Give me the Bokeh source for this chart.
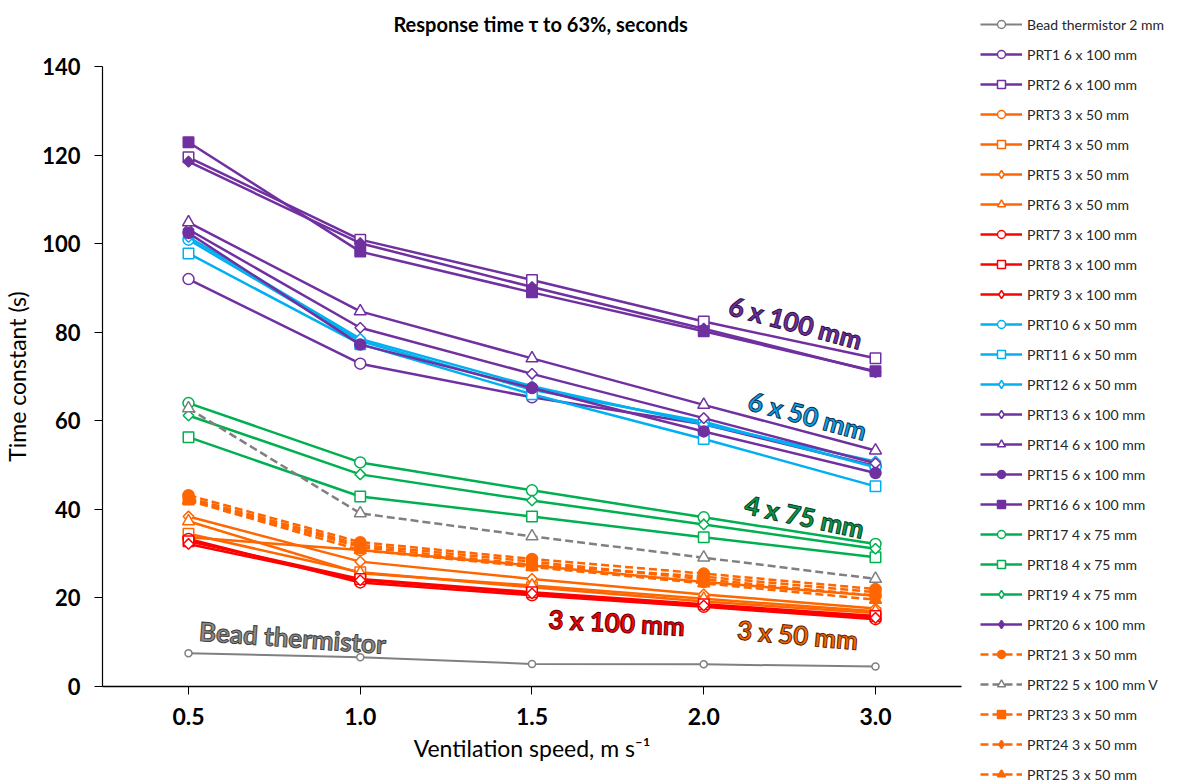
import math
from bokeh.plotting import figure
from bokeh.models import (Legend, LegendItem, Label, Range1d,
                          ColumnDataSource, FixedTicker)
from bokeh.embed import file_html
from bokeh.resources import INLINE

# ---------------- data ----------------
speeds = ["0.5", "1.0", "1.5", "2.0", "3.0"]   # category axis (equally spaced)

bead = [7.5, 6.6, 5.1, 5.0, 4.5]
prt1 = [92.0, 72.9, 65.3, 59.2, 49.8]
prt2 = [119.5, 100.9, 91.8, 82.4, 74.1]
prt3 = [33.7, 30.8, 27.3, 23.6, 20.5]
prt4 = [34.5, 25.8, 22.4, 19.2, 16.6]
prt5 = [38.4, 28.2, 24.3, 20.8, 17.6]
prt6 = [37.3, 25.6, 22.8, 19.8, 17.0]
prt7 = [33.3, 23.5, 20.6, 18.0, 15.2]
prt8 = [32.8, 24.3, 21.3, 18.6, 15.9]
prt9 = [32.2, 24.0, 21.0, 18.3, 15.5]
prt10 = [100.9, 78.0, 67.0, 59.8, 49.5]
prt11 = [97.8, 77.3, 66.0, 55.9, 45.2]
prt12 = [101.5, 78.5, 67.8, 59.2, 50.8]
prt13 = [103.2, 81.0, 70.6, 60.6, 50.4]
prt14 = [104.8, 84.7, 74.1, 63.6, 53.3]
prt15 = [102.4, 77.2, 67.4, 57.6, 48.2]
prt16 = [122.9, 98.2, 89.0, 80.2, 71.2]
prt17 = [64.0, 50.6, 44.3, 38.2, 32.2]
prt18 = [56.3, 42.9, 38.4, 33.7, 29.2]
prt19 = [61.2, 47.9, 42.0, 36.6, 31.1]
prt20 = [118.5, 100.1, 90.2, 80.8, 71.0]
prt21 = [43.2, 32.6, 28.8, 25.5, 22.0]
prt22 = [62.8, 39.1, 33.9, 29.1, 24.3]
prt23 = [42.2, 31.5, 27.5, 24.8, 21.3]
prt24 = [42.6, 32.0, 28.2, 24.2, 20.5]
prt25 = [42.0, 30.8, 27.0, 23.3, 19.6]

y_ticks = [0, 20, 40, 60, 80, 100, 120, 140]

PURPLE = "#7030A0"
ORANGE = "#FF6600"
RED = "#FF0000"
CYAN = "#00B0F0"
GREEN = "#00B050"
GRAY = "#808080"

# name, values, colour, marker, filled, dashed
series = [
    ("Bead thermistor 2 mm", bead, GRAY, "circle", False, False),
    ("PRT1 6 x 100 mm", prt1, PURPLE, "circle", False, False),
    ("PRT2 6 x 100 mm", prt2, PURPLE, "square", False, False),
    ("PRT3 3 x 50 mm", prt3, ORANGE, "circle", False, False),
    ("PRT4 3 x 50 mm", prt4, ORANGE, "square", False, False),
    ("PRT5 3 x 50 mm", prt5, ORANGE, "diamond", False, False),
    ("PRT6 3 x 50 mm", prt6, ORANGE, "triangle", False, False),
    ("PRT7 3 x 100 mm", prt7, RED, "circle", False, False),
    ("PRT8 3 x 100 mm", prt8, RED, "square", False, False),
    ("PRT9 3 x 100 mm", prt9, RED, "diamond", False, False),
    ("PRT10 6 x 50 mm", prt10, CYAN, "circle", False, False),
    ("PRT11 6 x 50 mm", prt11, CYAN, "square", False, False),
    ("PRT12 6 x 50 mm", prt12, CYAN, "diamond", False, False),
    ("PRT13 6 x 100 mm", prt13, PURPLE, "diamond", False, False),
    ("PRT14 6 x 100 mm", prt14, PURPLE, "triangle", False, False),
    ("PRT15 6 x 100 mm", prt15, PURPLE, "circle", True, False),
    ("PRT16 6 x 100 mm", prt16, PURPLE, "square", True, False),
    ("PRT17 4 x 75 mm", prt17, GREEN, "circle", False, False),
    ("PRT18 4 x 75 mm", prt18, GREEN, "square", False, False),
    ("PRT19 4 x 75 mm", prt19, GREEN, "diamond", False, False),
    ("PRT20 6 x 100 mm", prt20, PURPLE, "diamond", True, False),
    ("PRT21 3 x 50 mm", prt21, ORANGE, "circle", True, True),
    ("PRT22 5 x 100 mm V", prt22, GRAY, "triangle", False, True),
    ("PRT23 3 x 50 mm", prt23, ORANGE, "square", True, True),
    ("PRT24 3 x 50 mm", prt24, ORANGE, "diamond", True, True),
    ("PRT25 3 x 50 mm", prt25, ORANGE, "triangle", True, True),
]

FONT = "Lato"
cat_idx = list(range(len(speeds)))
n = len(speeds)

# The frame covers the whole canvas; axes are pinned at data positions.
p = figure(width=1181, height=783,
           x_range=Range1d(-1.0946, n - 1 + 1.7817),
           y_range=Range1d(-21.9, 154.9),
           output_backend="svg", toolbar_location=None,
           min_border=0, min_border_left=0, min_border_right=0,
           min_border_top=0, min_border_bottom=0,
           x_axis_location="below", y_axis_location="left")
p.title.visible = False
p.outline_line_color = None
p.xgrid.grid_line_color = None
p.ygrid.grid_line_color = None

nan = float("nan")
items = []
for name, vals, col, mk, filled, dashed in series:
    src = ColumnDataSource(dict(x=cat_idx, y=vals))
    lw = 2.0 if name.startswith("Bead") else 2.5
    dash = "8 4" if dashed else "solid"
    fill = col if filled else "white"
    ln = p.line("x", "y", source=src, line_color=col, line_width=lw, line_dash=dash)
    if mk == "diamond":
        p.scatter("x", "y", source=src, marker="square", size=7.5,
                  angle=math.pi / 4, line_color=col, line_width=1.5,
                  fill_color=fill)
        # legend swatch only (NaN values: nothing drawn in the plot)
        proxy_src = ColumnDataSource(dict(x=cat_idx, y=[nan] * n))
        sc = p.scatter("x", "y", source=proxy_src, marker="diamond", size=12,
                       line_color=col, line_width=1.5, fill_color=fill)
    else:
        if mk == "circle":
            size = 7 if name.startswith("Bead") else 11
        elif mk == "triangle":
            size = 12
        else:
            size = 10.5
        sc = p.scatter("x", "y", source=src, marker=mk, size=size,
                       line_color=col, line_width=1.5, fill_color=fill)
    items.append(LegendItem(label=name, renderers=[ln, sc]))

legend = Legend(items=items, location=(980, -1), ncols=1,
                glyph_width=42, glyph_height=20, label_height=20,
                spacing=10, padding=10, margin=0, label_standoff=5,
                label_text_font=FONT, label_text_font_size="14px",
                label_text_color="#262626",
                border_line_color=None, background_fill_alpha=0)
p.add_layout(legend)

# title as a text annotation above the plotting area
p.add_layout(Label(x=(n - 1) / 2 + 0.05, y=149.6,
                   text="Response time \u03c4 to 63%, seconds",
                   text_align="center", text_baseline="middle",
                   text_font=FONT, text_font_size="20px",
                   text_font_style="bold", text_color="#000000"))

# axes
xa = p.xaxis[0]
xa.fixed_location = 0
xa.bounds = (-0.5, n - 0.5)
xa.ticker = FixedTicker(ticks=cat_idx, minor_ticks=[])
xa.major_label_overrides = {i: s for i, s in enumerate(speeds)}
xa.axis_label = "Ventilation speed, m s\u207b\u00b9"
xa.axis_label_text_font = FONT
xa.axis_label_text_font_size = "23px"
xa.axis_label_text_font_style = "normal"
xa.axis_label_text_color = "#000000"
xa.axis_label_standoff = 6
xa.major_label_text_font = FONT
xa.major_label_text_font_size = "23px"
xa.major_label_text_font_style = "bold"
xa.major_label_text_color = "#000000"
xa.major_label_standoff = 13
xa.major_tick_out = 8
xa.major_tick_in = 0
xa.minor_tick_line_color = None
xa.axis_line_color = "#000000"
xa.axis_line_width = 1.5
xa.major_tick_line_color = "#000000"

ya = p.yaxis[0]
ya.fixed_location = -0.5
ya.bounds = (0, 140)
ya.ticker = FixedTicker(ticks=y_ticks, minor_ticks=[])
ya.axis_label = "Time constant (s)"
ya.axis_label_text_font = FONT
ya.axis_label_text_font_size = "23px"
ya.axis_label_text_font_style = "normal"
ya.axis_label_text_color = "#000000"
ya.axis_label_standoff = 8
ya.major_label_text_font = FONT
ya.major_label_text_font_size = "22px"
ya.major_label_text_font_style = "bold"
ya.major_label_text_color = "#000000"
ya.major_label_standoff = 14
ya.major_tick_out = 8
ya.major_tick_in = 0
ya.minor_tick_line_color = None
ya.axis_line_color = "#000000"
ya.axis_line_width = 1.2
ya.major_tick_line_color = "#000000"

# group annotations
notes = [
    ("Bead thermistor", 0.606, 11.1, "#8C8C8C", "#404040", -4),
    ("6 x 100 mm", 3.535, 82.2, PURPLE, "#2E1045", -15),
    ("6 x 50 mm", 3.605, 61.2, "#0AA5E6", "#0B2E55", -15),
    ("4 x 75 mm", 3.587, 38.4, "#00A050", "#0B3A1E", -12),
    ("3 x 100 mm", 2.493, 14.5, RED, "#5A0000", -3),
    ("3 x 50 mm", 3.547, 11.7, ORANGE, "#5A2400", -5),
]
for txt, x, y, fc, oc, deg in notes:
    p.add_layout(Label(x=x, y=y, text=txt, angle=math.radians(deg),
                       text_align="center", text_baseline="middle",
                       text_font=FONT, text_font_size="26px",
                       text_font_style="bold", text_color=fc,
                       text_outline_color=oc))

open("out.html", "w").write(file_html(p, INLINE))
